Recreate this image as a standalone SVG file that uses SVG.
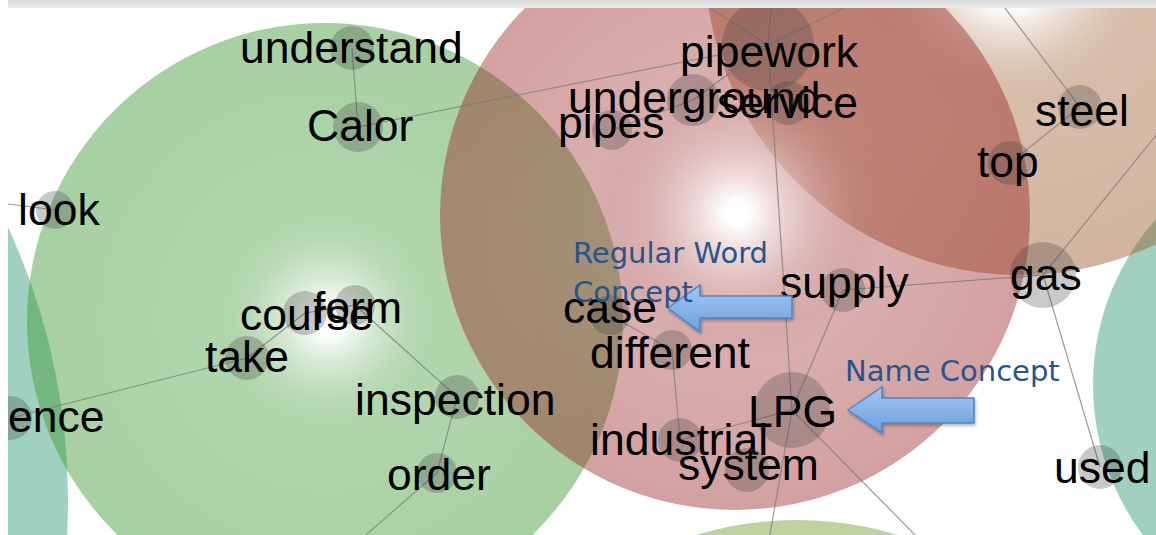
<svg xmlns="http://www.w3.org/2000/svg" width="1156" height="535" viewBox="0 0 1156 535">
<defs>
<clipPath id="frame"><rect x="8" y="8" width="1148" height="527"/></clipPath>
<radialGradient id="gGreen" gradientUnits="userSpaceOnUse" cx="328" cy="320" r="298">
<stop offset="0" stop-color="#ffffff" stop-opacity="1"/>
<stop offset="0.05" stop-color="#ffffff" stop-opacity="0.9"/>
<stop offset="0.42" stop-color="rgb(60,150,50)" stop-opacity="0.4"/>
<stop offset="1" stop-color="rgb(60,150,50)" stop-opacity="0.45"/>
</radialGradient>
<radialGradient id="gRed" gradientUnits="userSpaceOnUse" cx="737" cy="213" r="295">
<stop offset="0" stop-color="#ffffff" stop-opacity="1"/>
<stop offset="0.04" stop-color="#ffffff" stop-opacity="0.9"/>
<stop offset="0.5" stop-color="rgb(150,30,30)" stop-opacity="0.36"/>
<stop offset="1" stop-color="rgb(150,30,30)" stop-opacity="0.42"/>
</radialGradient>
<radialGradient id="gBrown" gradientUnits="userSpaceOnUse" cx="1010" cy="-40" r="315">
<stop offset="0" stop-color="#ffffff" stop-opacity="1"/>
<stop offset="0.15" stop-color="#ffffff" stop-opacity="0.9"/>
<stop offset="0.5" stop-color="rgb(155,89,44)" stop-opacity="0.4"/>
<stop offset="1" stop-color="rgb(155,89,44)" stop-opacity="0.45"/>
</radialGradient>
<linearGradient id="gBar" x1="0" y1="0" x2="0" y2="1">
<stop offset="0" stop-color="#dcdcdc"/>
<stop offset="1" stop-color="#ececec"/>
</linearGradient>
<linearGradient id="gArrow" x1="0" y1="0" x2="0" y2="1">
<stop offset="0" stop-color="#a2c8f2"/>
<stop offset="1" stop-color="#6c9fdc"/>
</linearGradient>
<filter id="shadow" x="-20%" y="-30%" width="140%" height="170%">
<feDropShadow dx="1" dy="2" stdDeviation="1.5" flood-color="#000" flood-opacity="0.3"/>
</filter>
<style>
.node circle{fill:#3c3c3c;fill-opacity:0.28}
.node text{font-family:"Liberation Sans",Arial,sans-serif;font-size:44.5px;fill:#000}
#connectors line{stroke:#7a7a7a;stroke-width:1.2;stroke-opacity:0.75}
.note{font-family:"DejaVu Sans",Verdana,sans-serif;font-size:29px;fill:#26548c}
.arrow{fill:url(#gArrow);stroke:#5283c2;stroke-width:1.5;filter:url(#shadow)}
</style>
</defs>
<rect x="0" y="0" width="1156" height="535" fill="#ffffff"/>
<g clip-path="url(#frame)">
<g id="themes">
<circle cx="-582" cy="500" r="650" fill="rgb(44,151,115)" fill-opacity="0.45"/>
<circle cx="1343" cy="385" r="250" fill="rgb(44,151,115)" fill-opacity="0.45"/>
<circle cx="797" cy="870" r="350" fill="rgb(111,155,44)" fill-opacity="0.45"/>
<circle cx="325" cy="321" r="298" fill="url(#gGreen)"/>
<circle cx="1020" cy="-40" r="315" fill="url(#gBrown)"/>
<circle cx="735" cy="215" r="295" fill="url(#gRed)"/>
</g>
<g id="connectors">
<line x1="352" y1="48" x2="358" y2="127"/>
<line x1="358" y1="127" x2="768" y2="45"/>
<line x1="0" y1="203" x2="55" y2="210"/>
<line x1="10" y1="418" x2="247" y2="358"/>
<line x1="247" y1="358" x2="305" y2="313"/>
<line x1="305" y1="313" x2="355" y2="305"/>
<line x1="355" y1="305" x2="457" y2="397"/>
<line x1="457" y1="397" x2="437" y2="473"/>
<line x1="437" y1="473" x2="360" y2="540"/>
<line x1="768" y1="45" x2="690" y2="-5"/>
<line x1="768" y1="45" x2="880" y2="-10"/>
<line x1="768" y1="45" x2="772" y2="-5"/>
<line x1="768" y1="45" x2="693" y2="100"/>
<line x1="693" y1="100" x2="612" y2="130"/>
<line x1="768" y1="45" x2="792" y2="410"/>
<line x1="792" y1="410" x2="768" y2="545"/>
<line x1="792" y1="410" x2="920" y2="540"/>
<line x1="792" y1="410" x2="843" y2="290"/>
<line x1="843" y1="290" x2="1043" y2="275"/>
<line x1="1043" y1="275" x2="1162" y2="128"/>
<line x1="1043" y1="275" x2="1100" y2="467"/>
<line x1="1080" y1="107" x2="995" y2="-5"/>
<line x1="1080" y1="107" x2="1010" y2="163"/>
<line x1="610" y1="315" x2="672" y2="350"/>
<line x1="672" y1="350" x2="680" y2="440"/>
<line x1="680" y1="440" x2="792" y2="410"/>
</g>
<g id="node-understand" class="node"><circle cx="352" cy="48" r="22"/><text x="240" y="63">understand</text></g>
<g id="node-Calor" class="node"><circle cx="358" cy="127" r="25"/><text x="307" y="141">Calor</text></g>
<g id="node-look" class="node"><circle cx="55" cy="210" r="19"/><text x="18" y="225">look</text></g>
<g id="node-ence" class="node"><circle cx="10" cy="418" r="22"/><text x="8" y="432">ence</text></g>
<g id="node-course" class="node"><circle cx="305" cy="313" r="22"/><text x="240" y="330">course</text></g>
<g id="node-form" class="node"><circle cx="355" cy="305" r="20"/><text x="313" y="323">form</text></g>
<g id="node-take" class="node"><circle cx="247" cy="358" r="22"/><text x="205" y="372">take</text></g>
<g id="node-inspection" class="node"><circle cx="457" cy="397" r="22"/><text x="355" y="415">inspection</text></g>
<g id="node-order" class="node"><circle cx="437" cy="473" r="20"/><text x="387" y="490">order</text></g>
<g id="node-pipework" class="node"><circle cx="768" cy="45" r="46"/><text x="680" y="67">pipework</text></g>
<g id="node-underground" class="node"><circle cx="693" cy="100" r="26"/><text x="568" y="113">underground</text></g>
<g id="node-service" class="node"><circle cx="788" cy="103" r="22"/><text x="717" y="118">service</text></g>
<g id="node-pipes" class="node"><circle cx="612" cy="130" r="20"/><text x="558" y="138">pipes</text></g>
<g id="node-steel" class="node"><circle cx="1080" cy="107" r="22"/><text x="1035" y="126">steel</text></g>
<g id="node-top" class="node"><circle cx="1010" cy="163" r="22"/><text x="977" y="177">top</text></g>
<g id="node-gas" class="node"><circle cx="1043" cy="275" r="33"/><text x="1010" y="290">gas</text></g>
<g id="node-supply" class="node"><circle cx="843" cy="290" r="22"/><text x="780" y="298">supply</text></g>
<g id="node-case" class="node"><circle cx="610" cy="315" r="20"/><text x="563" y="323">case</text></g>
<g id="node-different" class="node"><circle cx="672" cy="350" r="20"/><text x="590" y="368">different</text></g>
<g id="node-LPG" class="node"><circle cx="792" cy="410" r="38"/><text x="748" y="427">LPG</text></g>
<g id="node-industrial" class="node"><circle cx="680" cy="440" r="22"/><text x="590" y="455">industrial</text></g>
<g id="node-system" class="node"><circle cx="747" cy="470" r="22"/><text x="678" y="480">system</text></g>
<g id="node-used" class="node"><circle cx="1100" cy="467" r="22"/><text x="1054" y="483">used</text></g>
</g>
<rect x="8" y="0" width="1148" height="8" fill="url(#gBar)"/>
<g id="annotation-regular">
<path class="arrow" d="M668,308 L700,285 L700,296 L792,296 L792,318 L700,318 L700,332 Z"/>
<text class="note" x="573" y="263">Regular Word</text>
<text class="note" x="573" y="302">Concept</text>
</g>
<g id="annotation-name">
<path class="arrow" d="M848,410 L882,387 L882,398 L974,398 L974,423 L882,423 L882,433 Z"/>
<text class="note" x="845" y="381">Name Concept</text>
</g>
</svg>
